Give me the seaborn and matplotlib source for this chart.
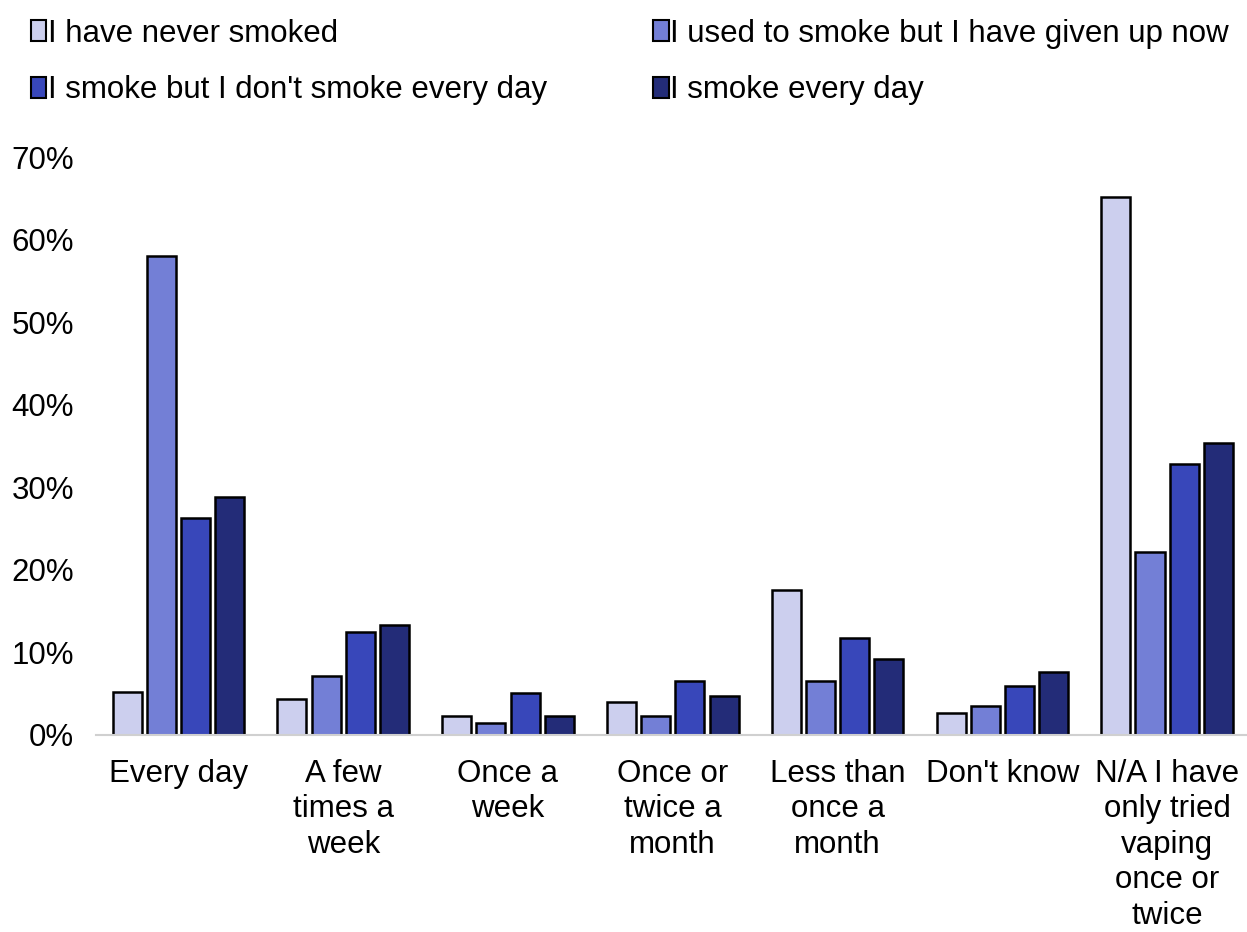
import pandas as pd
import numpy as np
import matplotlib
matplotlib.use("Agg")
import matplotlib.pyplot as plt
import seaborn as sns
from matplotlib.ticker import PercentFormatter

categories = ["Every day", "A few\ntimes a\nweek", "Once a\nweek", "Once or\ntwice a\nmonth",
              "Less than\nonce a\nmonth", "Don't know", "N/A I have\nonly tried\nvaping\nonce or\ntwice"]
groups = ["I have never smoked", "I used to smoke but I have given up now",
          "I smoke but I don't smoke every day", "I smoke every day"]

never_smoked = [5.2, 4.4, 2.3, 4.0, 17.6, 2.7, 65.1]
used_to_smoke = [58.0, 7.1, 1.5, 2.3, 6.5, 3.5, 22.2]
not_every_day = [26.3, 12.5, 5.1, 6.5, 11.7, 5.9, 32.8]
every_day = [28.8, 13.3, 2.3, 4.7, 9.2, 7.6, 35.4]

colours = ["#CCCFEE", "#737FD6", "#3847BA", "#232C78"]

df = pd.DataFrame({
    "category": categories * 4,
    "group": np.repeat(groups, len(categories)),
    "value": never_smoked + used_to_smoke + not_every_day + every_day,
})
df["value"] = df["value"] / 100

sns.set_theme(style="white")
plt.rcParams["font.family"] = ["Liberation Sans", "DejaVu Sans"]
plt.rcParams["text.color"] = "black"

fig = plt.figure(figsize=(12.47, 9.32), dpi=100)
ax = fig.add_axes([0.077, 0.2114, 0.925, 0.6201])

sns.barplot(data=df, x="category", y="value", hue="group", palette=colours,
            saturation=1, width=0.83, gap=0.15, edgecolor="black", linewidth=1.8, ax=ax)

ax.set_ylim(0, 0.7)
ax.set_xlim(-0.5, 6.5)
ax.yaxis.set_major_formatter(PercentFormatter(1.0, decimals=0))
ax.set_yticks(np.arange(0, 0.71, 0.1))
ax.set_xlabel("")
ax.set_ylabel("")
ax.tick_params(axis="both", length=0, labelsize=22.5, colors="black")
ax.tick_params(axis="y", pad=16)
ax.tick_params(axis="x", pad=17)
for lab in ax.get_xticklabels():
    lab.set_linespacing(1.24)
    lab.set_verticalalignment("top")

for s in ["top", "right", "left"]:
    ax.spines[s].set_visible(False)
ax.spines["bottom"].set_color("#d0d0d0")
ax.spines["bottom"].set_linewidth(1.5)

handles, labels = ax.get_legend_handles_labels()
ax.get_legend().remove()
for h in handles:
    h.set_edgecolor("black")
    h.set_linewidth(1.5)
order = [0, 2, 1, 3]
fig.legend([handles[i] for i in order], [labels[i] for i in order], ncol=2,
           loc="upper left", bbox_to_anchor=(0.002, 1.01),
           frameon=False, fontsize=22.5, handlelength=0.5, handleheight=0.65,
           handletextpad=0.05, columnspacing=3.4, labelspacing=0.85)

fig.savefig("out.png", dpi=100)
